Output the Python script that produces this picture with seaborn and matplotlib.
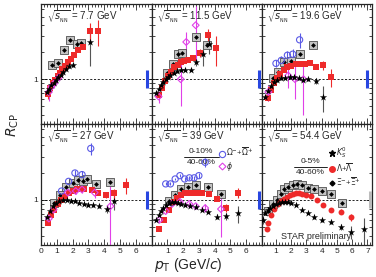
import numpy as np
import pandas as pd
import matplotlib
matplotlib.use("Agg")
import matplotlib.pyplot as plt
from matplotlib.ticker import LogLocator, NullFormatter, FixedLocator, FixedFormatter, MultipleLocator
from matplotlib.lines import Line2D
import seaborn as sns

# ---- data (R_CP vs pT) ----
ENERGIES = ["7.7", "11.5", "19.6", "27", "39", "54.4"]

K0S_X_7 = [0.35, 0.5, 0.65, 0.8, 0.95, 1.1, 1.25, 1.4, 1.6, 1.8, 2.0, 3.1]
K0S_Y_7 = [0.72, 0.78, 0.85, 0.9, 0.97, 1.05, 1.12, 1.2, 1.3, 1.4, 1.45, 2.6]
K0S_E_7 = [0.03, 0.03, 0.03, 0.03, 0.03, 0.03, 0.04, 0.04, 0.05, 0.06, 0.08, 1.2]
LAM_X_7 = [0.45, 0.6, 0.75, 0.9, 1.05, 1.2, 1.35, 1.5, 1.7, 1.9, 2.1, 2.35, 2.65, 3.1, 3.6]
LAM_Y_7 = [0.68, 0.8, 0.9, 0.98, 1.08, 1.18, 1.3, 1.42, 1.55, 1.7, 1.85, 2.1, 2.3, 3.45, 3.45]
LAM_E_7 = [0.08, 0.04, 0.04, 0.04, 0.04, 0.04, 0.05, 0.05, 0.06, 0.07, 0.08, 0.1, 0.15, 0.8, 1.1]
XI_X_7 = [0.7, 1.05, 1.45, 1.85, 2.3, 2.55]
XI_Y_7 = [1.45, 1.5, 2.1, 2.75, 2.5, 2.55]
PHI_X_7 = [0.5, 0.65, 0.85, 1.15]
PHI_Y_7 = [0.72, 0.82, 0.9, 1.05]
PHI_E_7 = [0.15, 0.1, 0.1, 0.1]

K0S_X_11 = [0.3, 0.45, 0.6, 0.75, 0.9, 1.05, 1.2, 1.4, 1.6, 1.85, 2.15, 2.5, 2.8, 3.25, 3.65]
K0S_Y_11 = [0.7, 0.78, 0.85, 0.92, 1.0, 1.07, 1.12, 1.18, 1.22, 1.27, 1.28, 1.28, 1.55, 1.9, 2.5]
K0S_E_11 = [0.03, 0.03, 0.03, 0.03, 0.03, 0.03, 0.03, 0.04, 0.04, 0.05, 0.05, 0.06, 0.15, 0.5, 0.6]
LAM_X_11 = [0.45, 0.65, 0.85, 1.05, 1.25, 1.45, 1.65, 1.85, 2.05, 2.3, 2.6, 3.1, 3.6, 4.1]
LAM_Y_11 = [0.66, 0.8, 0.95, 1.08, 1.2, 1.35, 1.45, 1.55, 1.6, 1.65, 1.72, 1.95, 3.1, 2.2]
LAM_E_11 = [0.05, 0.04, 0.04, 0.04, 0.04, 0.05, 0.05, 0.05, 0.06, 0.06, 0.08, 0.2, 0.5, 0.8]
XI_X_11 = [1.0, 1.38, 1.7, 1.95, 2.8, 3.5]
XI_Y_11 = [1.16, 1.49, 1.9, 1.94, 2.95, 2.4]
PHI_X_11 = [0.45, 1.85, 2.2, 2.8]
PHI_Y_11 = [0.64, 1.0, 2.6, 4.0]
PHI_E_11 = [0.1, 0.5, 0.8, 2.5]

K0S_X_19 = [0.25, 0.45, 0.65, 0.85, 1.05, 1.3, 1.6, 1.9, 2.2, 2.5, 2.8, 3.1, 3.6, 4.1]
K0S_Y_19 = [0.64, 0.74, 0.83, 0.92, 0.98, 1.02, 1.04, 1.07, 1.05, 1.02, 0.99, 1.0, 0.96, 0.63]
K0S_E_19 = [0.03, 0.03, 0.03, 0.03, 0.03, 0.03, 0.03, 0.03, 0.03, 0.04, 0.04, 0.05, 0.08, 0.2]
LAM_X_19 = [0.45, 0.65, 0.85, 1.05, 1.25, 1.5, 1.75, 2.0, 2.3, 2.6, 2.9, 3.2, 3.6, 4.1, 4.6]
LAM_Y_19 = [0.61, 0.75, 0.9, 1.02, 1.14, 1.27, 1.36, 1.42, 1.46, 1.48, 1.48, 1.5, 1.37, 1.43, 1.06]
LAM_E_19 = [0.04, 0.03, 0.03, 0.03, 0.03, 0.03, 0.03, 0.04, 0.04, 0.04, 0.05, 0.06, 0.08, 0.15, 0.25]
XI_X_19 = [0.8, 1.15, 1.55, 2.0, 2.6, 3.4]
XI_Y_19 = [1.02, 1.2, 1.55, 1.6, 1.9, 2.4]
OMG_X_19 = [1.0, 1.35, 1.75, 2.1, 2.55]
OMG_Y_19 = [1.5, 1.62, 1.85, 1.9, 2.75]
OMG_E_19 = [0.15, 0.2, 0.2, 0.25, 0.5]
PHI_X_19 = [0.5, 1.8, 2.25, 2.8]
PHI_Y_19 = [0.72, 1.1, 1.0, 1.0]
PHI_E_19 = [0.15, 0.3, 0.4, 0.6]

K0S_X_27 = [0.35, 0.55, 0.75, 0.95, 1.15, 1.4, 1.65, 1.9, 2.15, 2.4, 2.7, 3.0, 3.3, 3.7, 4.15, 4.65]
K0S_Y_27 = [0.64, 0.75, 0.86, 0.93, 0.98, 1.0, 0.99, 0.97, 0.96, 0.93, 0.9, 0.88, 0.87, 0.85, 0.79, 0.97]
K0S_E_27 = [0.02, 0.02, 0.02, 0.02, 0.02, 0.02, 0.02, 0.02, 0.02, 0.02, 0.02, 0.03, 0.03, 0.04, 0.08, 0.2]
LAM_X_27 = [0.45, 0.65, 0.85, 1.05, 1.25, 1.5, 1.75, 2.0, 2.25, 2.5, 2.75, 3.2, 3.6, 4.1, 4.65, 5.4]
LAM_Y_27 = [0.55, 0.68, 0.78, 0.9, 1.0, 1.1, 1.18, 1.25, 1.3, 1.33, 1.3, 1.28, 1.2, 1.12, 1.18, 1.45]
LAM_E_27 = [0.03, 0.03, 0.03, 0.03, 0.03, 0.03, 0.03, 0.03, 0.03, 0.04, 0.04, 0.05, 0.06, 0.08, 0.15, 0.3]
XI_X_27 = [0.8, 1.2, 1.6, 2.0, 2.35, 2.65, 2.9, 3.5, 4.4]
XI_Y_27 = [0.93, 1.14, 1.4, 1.55, 1.67, 1.6, 1.69, 1.5, 1.56]
OMG_X_27 = [1.3, 1.75, 2.15, 2.6, 3.15]
OMG_Y_27 = [1.25, 1.6, 1.98, 1.9, 3.7]
OMG_E_27 = [0.1, 0.12, 0.15, 0.2, 0.6]
PHI_X_27 = [0.5, 0.8, 1.7, 2.2, 2.6, 3.4, 4.4]
PHI_Y_27 = [0.62, 0.78, 1.2, 1.25, 1.3, 1.2, 0.85]
PHI_E_27 = [0.05, 0.05, 0.08, 0.1, 0.12, 0.15, 0.7]

K0S_X_39 = [0.3, 0.45, 0.6, 0.75, 0.9, 1.1, 1.3, 1.5, 1.7, 1.9, 2.15, 2.45, 2.8, 3.2, 3.6, 4.15, 4.7, 5.45]
K0S_Y_39 = [0.6, 0.68, 0.75, 0.82, 0.88, 0.93, 0.95, 0.95, 0.93, 0.9, 0.88, 0.86, 0.83, 0.78, 0.74, 0.65, 0.66, 0.71]
K0S_E_39 = [0.02, 0.02, 0.02, 0.02, 0.02, 0.02, 0.02, 0.02, 0.02, 0.02, 0.02, 0.02, 0.02, 0.03, 0.03, 0.04, 0.06, 0.15]
LAM_X_39 = [0.5, 0.8, 1.1, 1.4, 1.6, 1.85, 2.15, 2.45, 2.8, 3.2, 3.65, 4.15, 4.7, 5.45]
LAM_Y_39 = [0.48, 0.6, 0.77, 0.95, 1.05, 1.12, 1.18, 1.2, 1.2, 1.18, 1.15, 1.02, 0.81, 1.2]
LAM_E_39 = [0.03, 0.03, 0.03, 0.03, 0.03, 0.03, 0.03, 0.03, 0.03, 0.04, 0.05, 0.06, 0.08, 0.15]
XI_X_39 = [1.1, 1.5, 1.9, 2.3, 2.8, 3.6, 4.4]
XI_Y_39 = [0.96, 1.14, 1.3, 1.4, 1.47, 1.38, 1.17]
OMG_X_39 = [0.9, 1.2, 1.5, 1.8, 2.1, 2.4, 2.7, 3.0, 3.4]
OMG_Y_39 = [1.5, 1.5, 1.7, 1.85, 1.7, 1.75, 1.75, 1.85, 2.6]
OMG_E_39 = [0.06, 0.06, 0.06, 0.07, 0.08, 0.08, 0.1, 0.12, 0.3]
PHI_X_39 = [0.5, 0.9, 1.3, 1.8, 2.4, 2.8, 3.4, 4.4]
PHI_Y_39 = [0.6, 0.75, 0.9, 0.95, 0.9, 0.85, 0.81, 0.79]
PHI_E_39 = [0.03, 0.04, 0.04, 0.05, 0.05, 0.06, 0.08, 0.4]

K0S_X_54 = [0.15, 0.3, 0.45, 0.6, 0.8, 1.0, 1.2, 1.4, 1.6, 1.8, 2.0, 2.3, 2.7, 3.1, 3.5, 4.05, 4.6, 5.25, 5.9, 6.8]
K0S_Y_54 = [0.6, 0.72, 0.78, 0.82, 0.86, 0.9, 0.93, 0.95, 0.95, 0.94, 0.93, 0.87, 0.77, 0.71, 0.64, 0.6, 0.57, 0.5, 0.44, 0.48]
K0S_E_54 = [0.06, 0.02, 0.02, 0.02, 0.02, 0.02, 0.02, 0.02, 0.02, 0.02, 0.02, 0.02, 0.02, 0.02, 0.02, 0.03, 0.03, 0.04, 0.07, 0.15]
LAM_X_54 = [0.4, 0.5, 0.7, 0.9, 1.1, 1.3, 1.5, 1.7, 1.9, 2.1, 2.3, 2.5, 2.7, 3.0, 3.3, 3.7, 4.1, 4.6, 5.25, 5.9]
LAM_Y_54 = [0.47, 0.56, 0.68, 0.8, 0.9, 0.97, 1.03, 1.08, 1.12, 1.16, 1.18, 1.19, 1.17, 1.14, 1.09, 1.0, 0.88, 0.77, 0.74, 0.64]
LAM_E_54 = [0.02, 0.02, 0.02, 0.02, 0.02, 0.02, 0.02, 0.02, 0.02, 0.02, 0.02, 0.02, 0.02, 0.02, 0.02, 0.03, 0.03, 0.04, 0.05, 0.06]
XI_X_54 = [0.5, 0.8, 1.05, 1.3, 1.55, 1.8, 2.1, 2.4, 2.7, 3.1, 3.5, 4.0, 4.6, 5.3]
XI_Y_54 = [0.75, 0.9, 1.0, 1.15, 1.3, 1.4, 1.47, 1.5, 1.45, 1.35, 1.3, 1.25, 1.15, 0.92]

# global normalisation uncertainty bars (x position, low, high)
NORM_X = [6.7, 6.8, 7.0, 6.7, 6.8, 7.15]
NORM_LO = [0.8, 0.8, 0.8, 0.8, 0.8, 0.81]
NORM_HI = [1.25, 1.25, 1.25, 1.25, 1.25, 1.24]

K0S = [(K0S_X_7, K0S_Y_7, K0S_E_7), (K0S_X_11, K0S_Y_11, K0S_E_11), (K0S_X_19, K0S_Y_19, K0S_E_19),
       (K0S_X_27, K0S_Y_27, K0S_E_27), (K0S_X_39, K0S_Y_39, K0S_E_39), (K0S_X_54, K0S_Y_54, K0S_E_54)]
LAM = [(LAM_X_7, LAM_Y_7, LAM_E_7), (LAM_X_11, LAM_Y_11, LAM_E_11), (LAM_X_19, LAM_Y_19, LAM_E_19),
       (LAM_X_27, LAM_Y_27, LAM_E_27), (LAM_X_39, LAM_Y_39, LAM_E_39), (LAM_X_54, LAM_Y_54, LAM_E_54)]
XI = [(XI_X_7, XI_Y_7), (XI_X_11, XI_Y_11), (XI_X_19, XI_Y_19),
      (XI_X_27, XI_Y_27), (XI_X_39, XI_Y_39), (XI_X_54, XI_Y_54)]
OMG = [None, None, (OMG_X_19, OMG_Y_19, OMG_E_19), (OMG_X_27, OMG_Y_27, OMG_E_27),
       (OMG_X_39, OMG_Y_39, OMG_E_39), None]
PHI = [(PHI_X_7, PHI_Y_7, PHI_E_7), (PHI_X_11, PHI_Y_11, PHI_E_11), (PHI_X_19, PHI_Y_19, PHI_E_19),
       (PHI_X_27, PHI_Y_27, PHI_E_27), (PHI_X_39, PHI_Y_39, PHI_E_39), None]

RED = "#ee2a2a"
BLUE = "#5a5ae6"
MAGENTA = "#e040e8"

sns.set_theme(style="ticks")
plt.rcParams["font.family"] = ["Liberation Sans", "DejaVu Sans"]
plt.rcParams["mathtext.fontset"] = "dejavusans"
plt.rcParams["xtick.direction"] = "in"
plt.rcParams["ytick.direction"] = "in"

fig = plt.figure(figsize=(3.76, 2.77), dpi=100)
W, H = 376.0, 277.0
lefts = [41, 151.5, 261.5]
rows = [(4, 124), (124, 245)]

for i, energy in enumerate(ENERGIES):
    r, c = divmod(i, 3)
    top, bot = rows[r]
    ax = fig.add_axes([lefts[c] / W, (H - bot) / H, 110.5 / W, (bot - top) / H])
    ax.set_yscale("log")

    # K0s
    kx, ky, ke = K0S[i]
    ax.errorbar(kx, ky, yerr=ke, fmt="none", ecolor="#555555", elinewidth=0.8, zorder=2)
    sns.scatterplot(x=kx, y=ky, marker="*", s=30, color="black", linewidth=0, ax=ax, zorder=5)

    # Xi with systematic box
    xx, xy = XI[i]
    sns.scatterplot(x=xx, y=xy, marker="s", s=34, color="#c4c4c4", edgecolor="#505050",
                    linewidth=0.6, ax=ax, zorder=3)
    sns.scatterplot(x=xx, y=xy, marker="D", s=6, color="black", linewidth=0, ax=ax, zorder=4)

    # Lambda
    lx, ly, le = LAM[i]
    ax.errorbar(lx, ly, yerr=le, fmt="none", ecolor=RED, elinewidth=0.8, zorder=2)
    sns.scatterplot(x=lx, y=ly, marker="o" if i == 5 else "s", s=18, color=RED,
                    linewidth=0, ax=ax, zorder=4)

    # Omega
    if OMG[i] is not None:
        ox, oy, oe = OMG[i]
        ax.errorbar(ox, oy, yerr=oe, fmt="none", ecolor=BLUE, elinewidth=0.8, zorder=2)
        sns.scatterplot(x=ox, y=oy, marker="o", s=20, facecolor="none", edgecolor=BLUE,
                        linewidth=0.8, ax=ax, zorder=4)
    # phi
    if PHI[i] is not None:
        px, py, pe = PHI[i]
        ax.errorbar(px, py, yerr=pe, fmt="none", ecolor=MAGENTA, elinewidth=0.8, zorder=2)
        sns.scatterplot(x=px, y=py, marker="D", s=12, facecolor="none", edgecolor=MAGENTA,
                        linewidth=0.8, ax=ax, zorder=4)

    ax.vlines(NORM_X[i], NORM_LO[i], NORM_HI[i], color="#bbbbbb" if i == 5 else "#2846e0",
              linewidth=2.2, zorder=6)
    ax.axhline(1.0, color="black", linestyle=(0, (2.5, 2)), linewidth=0.6, zorder=1)

    # axes styling
    ax.set_ylim(0.316, 6.9)
    ax.set_xlim((0.05, 7.3) if c == 2 else (0, 7))
    ax.yaxis.set_major_locator(FixedLocator([1]))
    ax.yaxis.set_major_formatter(FixedFormatter(["1"] if c == 0 else [""]))
    ax.yaxis.set_minor_locator(LogLocator(base=10, subs=np.arange(2, 10) * 1.0, numticks=10))
    ax.yaxis.set_minor_formatter(NullFormatter())
    xt = list(range(0, 7)) if c == 0 else (list(range(1, 7)) if c == 1 else list(range(1, 8)))
    ax.set_xticks(xt)
    ax.xaxis.set_minor_locator(MultipleLocator(0.2))
    if r == 0:
        ax.set_xticklabels([])
    else:
        ax.set_xticklabels([str(t) for t in xt])
    ax.tick_params(which="both", top=True, right=True, width=0.6, labelsize=6, pad=2)
    ax.tick_params(which="major", length=4)
    ax.tick_params(which="minor", length=2)
    for sp in ax.spines.values():
        sp.set_linewidth(0.9)
    ax.set_xlabel("")
    ax.set_ylabel("")

    ax.text(0.05, 0.965, r"$\sqrt{s_{_{\rm NN}}}$ = " + energy + " GeV", transform=ax.transAxes,
            ha="left", va="top", fontsize=7)

    if i == 4:
        ax.text(0.45, 0.775, "0-10%", transform=ax.transAxes, ha="center", va="center", fontsize=6)
        ax.plot([0.29, 0.61], [0.73, 0.73], transform=ax.transAxes, color="black", lw=0.6)
        ax.text(0.45, 0.685, "40-60%", transform=ax.transAxes, ha="center", va="center", fontsize=6)
        handles = [Line2D([], [], marker="o", ls="none", mfc="none", mec=BLUE, ms=4.5, mew=0.8),
                   Line2D([], [], marker="D", ls="none", mfc="none", mec=MAGENTA, ms=3.5, mew=0.8)]
        ax.legend(handles, [r"$\Omega^{-}$+$\overline{\Omega}^{+}$", r"$\phi$"], loc="upper left",
                  bbox_to_anchor=(0.6, 0.83), frameon=False, fontsize=5.5, handletextpad=0.0,
                  handlelength=1.0, borderpad=0.1, labelspacing=0.2, borderaxespad=0.0)
    if i == 5:
        ax.text(0.44, 0.69, "0-5%", transform=ax.transAxes, ha="center", va="center", fontsize=6)
        ax.plot([0.29, 0.59], [0.645, 0.645], transform=ax.transAxes, color="black", lw=0.6)
        ax.text(0.44, 0.6, "40-60%", transform=ax.transAxes, ha="center", va="center", fontsize=6)
        handles = [Line2D([], [], marker="*", ls="none", color="black", ms=5),
                   Line2D([], [], marker="o", ls="none", color=RED, ms=4),
                   Line2D([], [], marker="D", ls="none", color="black", ms=2.5)]
        ax.legend(handles, [r"$K^{0}_{S}$", r"$\Lambda$+$\overline{\Lambda}$", r"$\Xi^{-}$+$\overline{\Xi}^{+}$"],
                  loc="upper left", bbox_to_anchor=(0.6, 0.83), frameon=False, fontsize=5.5,
                  handletextpad=0.0, handlelength=1.0, borderpad=0.1, labelspacing=0.1,
                  borderaxespad=0.0)
        ax.text(0.49, 0.07, "STAR preliminary", transform=ax.transAxes, ha="center", va="center",
                fontsize=6.5)

fig.text(0.035, 0.55, r"$R_{\rm CP}$", rotation=90, ha="center", va="center", fontsize=10)
fig.text(0.5, 0.045, r"$p_{\rm T}$ (GeV/$c$)", ha="center", va="center", fontsize=10)

fig.savefig("out.png", dpi=100)
